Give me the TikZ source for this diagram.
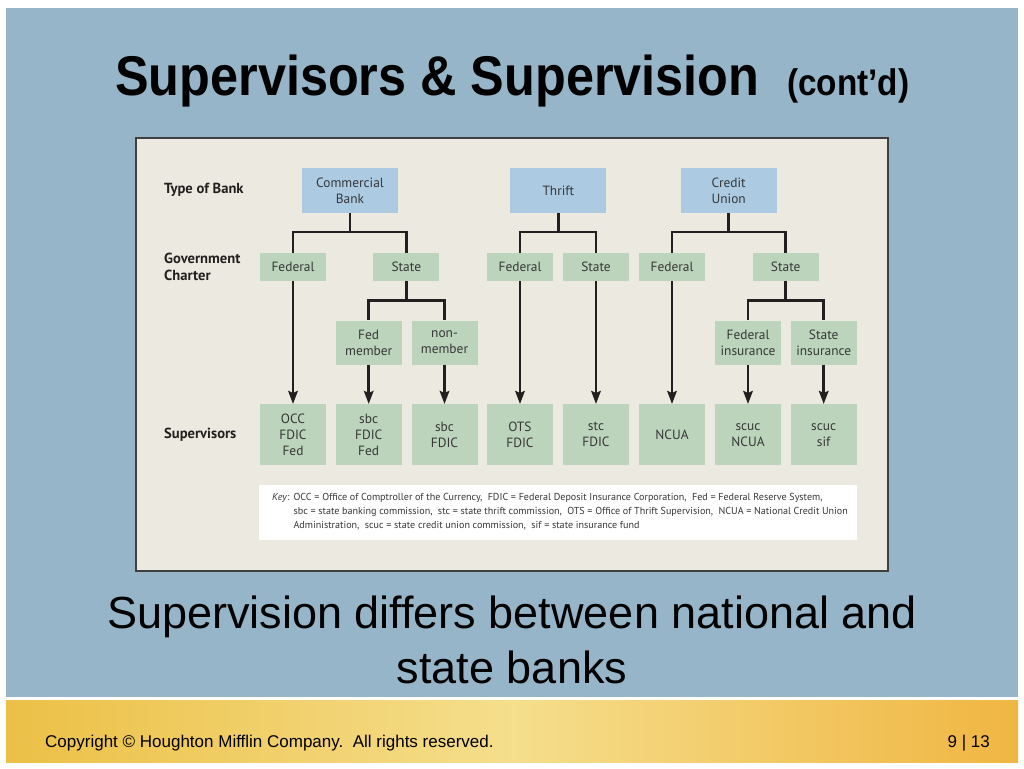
\documentclass[tikz,border=0pt]{standalone}
\usepackage{fontspec}
\setmainfont{Liberation Sans}
\newfontfamily\titlefont[FakeStretch=0.9]{Liberation Sans}
\newfontfamily\diagfont{PT Sans}
\usetikzlibrary{arrows.meta,positioning}

\definecolor{slideblue}{RGB}{150,181,201}
\definecolor{panelbg}{RGB}{236,234,224}
\definecolor{typeblue}{RGB}{172,203,227}
\definecolor{boxgreen}{RGB}{187,212,187}
\definecolor{linecol}{RGB}{35,31,32}
\definecolor{boxtext}{RGB}{55,55,55}
\definecolor{stripyellow}{RGB}{236,192,70}
\definecolor{stripcream}{RGB}{245,222,140}
\definecolor{striporange}{RGB}{240,182,66}

\begin{document}
\begin{tikzpicture}[x=1pt,y=-1pt,
  every node/.style={inner sep=0pt},
  banktype/.style={fill=typeblue, text=boxtext, minimum width=96pt, minimum height=45pt, align=center, font=\diagfont\fontsize{13.4}{16}\selectfont},
  greenbox/.style={fill=boxgreen, text=boxtext, minimum width=66pt, align=center, font=\diagfont\fontsize{13.4}{16}\selectfont},
  charter/.style={greenbox, minimum height=28pt},
  subcharter/.style={greenbox, minimum height=44pt},
  superbox/.style={greenbox, minimum height=61pt},
  rowlabel/.style={anchor=west, align=left, text=linecol, font=\diagfont\bfseries\fontsize{14.6}{17}\selectfont},
  link/.style={draw=linecol, line width=2.7pt},
  arr/.style={link, -{Stealth[length=13pt,width=9.5pt,inset=2pt]}}]
\useasboundingbox (0,0) rectangle (1024,768);

% slide background
\fill[slideblue] (6,8) rectangle (1018,697);
\shade[left color=stripyellow, right color=striporange, middle color=stripcream] (6,700) rectangle (1018,762);

% title
\node[anchor=base west, font=\titlefont\bfseries\fontsize{56}{60}\selectfont] (title) at (115,95) {Supervisors \& Supervision};
\node[anchor=base west, font=\titlefont\bfseries\fontsize{37}{40}\selectfont] (contd) at (787,95) {(cont’d)};

% diagram panel
\filldraw[fill=panelbg, draw=black!75, line width=1.2pt] (136,138) rectangle (888,571);

% row labels
\node[rowlabel] (lbltype) at (164,190) {Type of Bank};
\node[rowlabel] (lblcharter) at (164,266.5) {Government\\Charter};
\node[rowlabel] (lblsuper) at (164,435) {Supervisors};

% type of bank
\node[banktype] (cb) at (350,190.5) {Commercial\\Bank};
\node[banktype] (thrift) at (558.3,190.5) {Thrift};
\node[banktype] (cu) at (728.7,190.5) {Credit\\Union};

% government charter
\node[charter] (cbfed) at (293,267) {Federal};
\node[charter] (cbstate) at (406.3,267) {State};
\node[charter] (thfed) at (520,267) {Federal};
\node[charter] (thstate) at (596,267) {State};
\node[charter] (cufed) at (672,267) {Federal};
\node[charter] (custate) at (785.7,267) {State};

% second split
\node[subcharter] (fedmem) at (368.7,342.5) {Fed\\member};
\node[subcharter] (nonmem) at (444.5,342.5) {non-\\member};
\node[subcharter] (fedins) at (748,342.5) {Federal\\insurance};
\node[subcharter] (stateins) at (823.7,342.5) {State\\insurance};

% supervisors
\node[superbox] (occ) at (293,434.7) {OCC\\FDIC\\Fed};
\node[superbox] (sbcfed) at (368.7,434.7) {sbc\\FDIC\\Fed};
\node[superbox] (sbc) at (444.5,434.7) {sbc\\FDIC};
\node[superbox] (ots) at (520,434.7) {OTS\\FDIC};
\node[superbox] (stc) at (596,434.7) {stc\\FDIC};
\node[superbox] (ncua) at (672,434.7) {NCUA};
\node[superbox] (scucn) at (748,434.7) {scuc\\NCUA};
\node[superbox] (scucs) at (823.7,434.7) {scuc\\sif};

% brackets
\coordinate (cbj) at (350,232);
\coordinate (thj) at (558.3,232);
\coordinate (cuj) at (728.7,232);
\coordinate (cbsj) at (406.3,300.5);
\coordinate (cusj) at (785.7,300.5);
\draw[link] (cb.south) -- (cbj);
\draw[link] (cbfed.north) |- (cbj) -| (cbstate.north);
\draw[link] (thrift.south) -- (thj);
\draw[link] (thfed.north) |- (thj) -| (thstate.north);
\draw[link] (cu.south) -- (cuj);
\draw[link] (cufed.north) |- (cuj) -| (custate.north);
\draw[link] (cbstate.south) -- (cbsj);
\draw[link] (fedmem.north) |- (cbsj) -| (nonmem.north);
\draw[link] (custate.south) -- (cusj);
\draw[link] (fedins.north) |- (cusj) -| (stateins.north);

% arrows
\draw[arr] (cbfed.south) -- (occ.north);
\draw[arr] (fedmem.south) -- (sbcfed.north);
\draw[arr] (nonmem.south) -- (sbc.north);
\draw[arr] (thfed.south) -- (ots.north);
\draw[arr] (thstate.south) -- (stc.north);
\draw[arr] (cufed.south) -- (ncua.north);
\draw[arr] (fedins.south) -- (scucn.north);
\draw[arr] (stateins.south) -- (scucs.north);

% key
\fill[white] (259,485) rectangle (857,540);
\node[anchor=base west, text=boxtext, font=\diagfont\fontsize{10.1}{14}\selectfont] (key) at (272,500) {%
  \begin{tabular}[t]{@{}l@{\hspace{4pt}}l@{}}
  \textit{Key}: & OCC = Office of Comptroller of the Currency,\ \ FDIC = Federal Deposit Insurance Corporation,\ \ Fed = Federal Reserve System,\\
  & sbc = state banking commission,\ \ stc = state thrift commission,\ \ OTS = Office of Thrift Supervision,\ \ NCUA = National Credit Union\\
  & Administration,\ \ scuc = state credit union commission,\ \ sif = state insurance fund
  \end{tabular}};

% caption
\node[anchor=base, font=\fontsize{45}{55}\selectfont] (note1) at (512,628) {Supervision differs between national and};
\node[anchor=base, font=\fontsize{45}{55}\selectfont] (note2) at (512,683) {state banks};

% footer
\node[anchor=base west, font=\fontsize{17}{20}\selectfont] (copy) at (45,747) {Copyright © Houghton Mifflin Company.\ \ All rights reserved.};
\node[anchor=base east, font=\fontsize{17}{20}\selectfont] (page) at (990,747) {9 | 13};
\end{tikzpicture}
\end{document}
